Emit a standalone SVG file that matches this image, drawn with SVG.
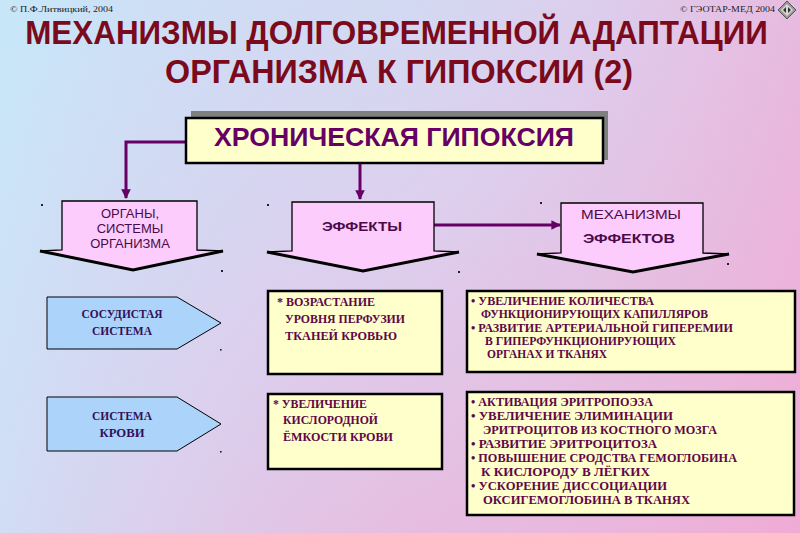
<svg xmlns="http://www.w3.org/2000/svg" width="800" height="533" viewBox="0 0 800 533">
<defs>
<linearGradient id="bg" x1="0" y1="0" x2="1" y2="1">
<stop offset="0" stop-color="#c6e6f8"/>
<stop offset="0.45" stop-color="#dcd0ee"/>
<stop offset="1" stop-color="#eeaed6"/>
</linearGradient>
<linearGradient id="bg2" x1="0" y1="0" x2="1" y2="0">
<stop offset="0" stop-color="#c8e8fa" stop-opacity="0.6"/>
<stop offset="0.5" stop-color="#e0c8ec" stop-opacity="0"/>
<stop offset="1" stop-color="#f2a8d4" stop-opacity="0.5"/>
</linearGradient>
<marker id="ah" viewBox="0 0 10 10" refX="9" refY="5" markerWidth="3.2" markerHeight="3.2" orient="auto" markerUnits="strokeWidth">
<path d="M0,0 L10,5 L0,10 z" fill="#660066"/>
</marker>
<style>
.title{font-family:"Liberation Sans",Arial,sans-serif;font-weight:bold;font-size:33px;fill:#7a0a1c;text-anchor:middle}
.copy{font-family:"Liberation Serif",serif;font-size:9px;fill:#222}
.conn{stroke:#660066;stroke-width:3;fill:none}
.dn{fill:#fcccfc;stroke:#000;stroke-width:1.3}
.dnb{fill:none;stroke:#000;stroke-width:3;stroke-linejoin:miter}
.dt{font-family:"Liberation Sans",Arial,sans-serif;font-size:13px;fill:#4a0a4a;text-anchor:middle}
.pent{fill:#acd4fa;stroke:#000;stroke-width:1}
.pt{font-family:"Liberation Serif",serif;font-weight:bold;font-size:12px;fill:#33105a;text-anchor:middle}
.yb{fill:#ffffcc;stroke:#000;stroke-width:2.5}
.bt{font-family:"Liberation Serif",serif;font-weight:bold;font-size:11.5px;fill:#5e0848}
.dot{fill:#222}
</style>
</defs>
<rect width="800" height="533" fill="url(#bg)"/>
<rect width="800" height="533" fill="url(#bg2)"/>

<g id="header">
<text class="copy" x="10" y="12" textLength="103" lengthAdjust="spacingAndGlyphs">© П.Ф.Литвицкий, 2004</text>
<text class="copy" x="680" y="12" textLength="95" lengthAdjust="spacingAndGlyphs">© ГЭОТАР-МЕД 2004</text>
<g id="icon">
<polygon points="787,1 796,10 787,19 778,10" fill="#9a9a9a" stroke="#555" stroke-width="1"/>
<polygon points="787,4 793,10 787,16 781,10" fill="#d8d8d8"/>
<polygon points="783,10 786,7 786,13" fill="#333"/>
<polygon points="791,10 788,7 788,13" fill="#333"/>
</g>
<g transform="scale(0.84,1)">
<text class="title" x="472" y="44" textLength="884" lengthAdjust="spacingAndGlyphs">МЕХАНИЗМЫ ДОЛГОВРЕМЕННОЙ АДАПТАЦИИ</text>
<text class="title" x="475" y="83" textLength="557" lengthAdjust="spacingAndGlyphs">ОРГАНИЗМА К ГИПОКСИИ (2)</text>
</g>
</g>

<g id="connectors">
<polyline class="conn" points="186,142 126,142 126,198" marker-end="url(#ah)"/>
<line class="conn" x1="360" y1="163" x2="360" y2="199" marker-end="url(#ah)"/>
<line class="conn" x1="434" y1="225" x2="560" y2="225" marker-end="url(#ah)"/>
</g>

<g id="hypoxia">
<rect x="191" y="111" width="417" height="49" fill="#7f7f7f"/>
<rect x="186" y="118" width="417" height="45" class="yb" stroke-width="3"/>
<text x="394" y="146" font-family="'Liberation Sans',Arial,sans-serif" font-weight="bold" font-size="25" fill="#660066" text-anchor="middle" textLength="360" lengthAdjust="spacingAndGlyphs">ХРОНИЧЕСКАЯ ГИПОКСИЯ</text>
</g>

<g id="organs">
<polygon class="dn" points="62,201 197,201 197,250 223,251 133,270 40,251 62,250"/>
<polyline class="dnb" points="40,251 133,270 223,251"/>
<text class="dt" x="130" y="218">ОРГАНЫ,</text>
<text class="dt" x="130" y="233">СИСТЕМЫ</text>
<text class="dt" x="130" y="248">ОРГАНИЗМА</text>
</g>

<g id="effects">
<polygon class="dn" points="292,202 434,202 434,251 459,252 363,271 267,252 292,251"/>
<polyline class="dnb" points="267,252 363,271 459,252"/>
<text class="dt" x="362" y="231" font-weight="bold" textLength="80" lengthAdjust="spacingAndGlyphs">ЭФФЕКТЫ</text>
</g>

<g id="mechanisms">
<polygon class="dn" points="561,203 703,203 703,253 729,254 633,272 537,254 561,253"/>
<polyline class="dnb" points="537,254 633,272 729,254"/>
<text class="dt" x="631" y="219" font-size="14" textLength="100" lengthAdjust="spacingAndGlyphs">МЕХАНИЗМЫ</text>
<text class="dt" x="629" y="243" font-size="14" font-weight="bold" textLength="92" lengthAdjust="spacingAndGlyphs">ЭФФЕКТОВ</text>
</g>

<g id="dots">
<rect class="dot" x="41" y="204" width="2" height="2"/>
<rect class="dot" x="221" y="270" width="2" height="2"/>
<rect class="dot" x="267" y="204" width="2" height="2"/>
<rect class="dot" x="458" y="271" width="2" height="2"/>
<rect class="dot" x="540" y="202" width="2" height="2"/>
<rect class="dot" x="727" y="263" width="2" height="2"/>
<rect class="dot" x="220" y="349" width="1.6" height="1.6"/>
<rect class="dot" x="220" y="451" width="1.6" height="1.6"/>
</g>

<g id="vascular">
<polygon class="pent" points="47,297 177,297 221,323 177,349 47,349"/>
<text class="pt" x="122" y="318" textLength="81" lengthAdjust="spacingAndGlyphs">СОСУДИСТАЯ</text>
<text class="pt" x="122" y="335" textLength="60" lengthAdjust="spacingAndGlyphs">СИСТЕМА</text>
</g>

<g id="blood">
<polygon class="pent" points="47,397 177,397 221,424 177,451 47,451"/>
<text class="pt" x="122" y="420" textLength="60" lengthAdjust="spacingAndGlyphs">СИСТЕМА</text>
<text class="pt" x="122" y="437" textLength="45" lengthAdjust="spacingAndGlyphs">КРОВИ</text>
</g>

<g id="effect1">
<rect class="yb" x="268" y="291" width="174" height="83"/>
<text class="bt" x="277" y="306" textLength="98" lengthAdjust="spacingAndGlyphs">*  ВОЗРАСТАНИЕ</text>
<text class="bt" x="285" y="323" textLength="120" lengthAdjust="spacingAndGlyphs">УРОВНЯ ПЕРФУЗИИ</text>
<text class="bt" x="285" y="340" textLength="112" lengthAdjust="spacingAndGlyphs">ТКАНЕЙ  КРОВЬЮ</text>
</g>

<g id="effect2">
<rect class="yb" x="268" y="394" width="174" height="75"/>
<text class="bt" x="273" y="408" textLength="94" lengthAdjust="spacingAndGlyphs">* УВЕЛИЧЕНИЕ</text>
<text class="bt" x="283" y="424" textLength="95" lengthAdjust="spacingAndGlyphs">КИСЛОРОДНОЙ</text>
<text class="bt" x="283" y="441" textLength="110" lengthAdjust="spacingAndGlyphs">ЁМКОСТИ  КРОВИ</text>
</g>

<g id="mech1">
<rect class="yb" x="467" y="291" width="328" height="81"/>
<text class="bt" x="471" y="305" textLength="183" lengthAdjust="spacingAndGlyphs">• УВЕЛИЧЕНИЕ КОЛИЧЕСТВА</text>
<text class="bt" x="481" y="318" textLength="227" lengthAdjust="spacingAndGlyphs">ФУНКЦИОНИРУЮЩИХ КАПИЛЛЯРОВ</text>
<text class="bt" x="471" y="332" textLength="262" lengthAdjust="spacingAndGlyphs">• РАЗВИТИЕ АРТЕРИАЛЬНОЙ ГИПЕРЕМИИ</text>
<text class="bt" x="485" y="345" textLength="191" lengthAdjust="spacingAndGlyphs">В ГИПЕРФУНКЦИОНИРУЮЩИХ</text>
<text class="bt" x="487" y="358" textLength="120" lengthAdjust="spacingAndGlyphs">ОРГАНАХ И ТКАНЯХ</text>
</g>

<g id="mech2">
<rect class="yb" x="467" y="392" width="327" height="123"/>
<text class="bt" x="471" y="406" textLength="182" lengthAdjust="spacingAndGlyphs">• АКТИВАЦИЯ  ЭРИТРОПОЭЗА</text>
<text class="bt" x="471" y="420" textLength="202" lengthAdjust="spacingAndGlyphs">• УВЕЛИЧЕНИЕ  ЭЛИМИНАЦИИ</text>
<text class="bt" x="483" y="434" textLength="234" lengthAdjust="spacingAndGlyphs">ЭРИТРОЦИТОВ  ИЗ  КОСТНОГО  МОЗГА</text>
<text class="bt" x="471" y="448" textLength="186" lengthAdjust="spacingAndGlyphs">• РАЗВИТИЕ   ЭРИТРОЦИТОЗА</text>
<text class="bt" x="471" y="462" textLength="266" lengthAdjust="spacingAndGlyphs">• ПОВЫШЕНИЕ  СРОДСТВА  ГЕМОГЛОБИНА</text>
<text class="bt" x="481" y="476" textLength="169" lengthAdjust="spacingAndGlyphs">К КИСЛОРОДУ В ЛЁГКИХ</text>
<text class="bt" x="471" y="490" textLength="196" lengthAdjust="spacingAndGlyphs">• УСКОРЕНИЕ   ДИССОЦИАЦИИ</text>
<text class="bt" x="483" y="504" textLength="207" lengthAdjust="spacingAndGlyphs">ОКСИГЕМОГЛОБИНА  В  ТКАНЯХ</text>
</g>
</svg>
